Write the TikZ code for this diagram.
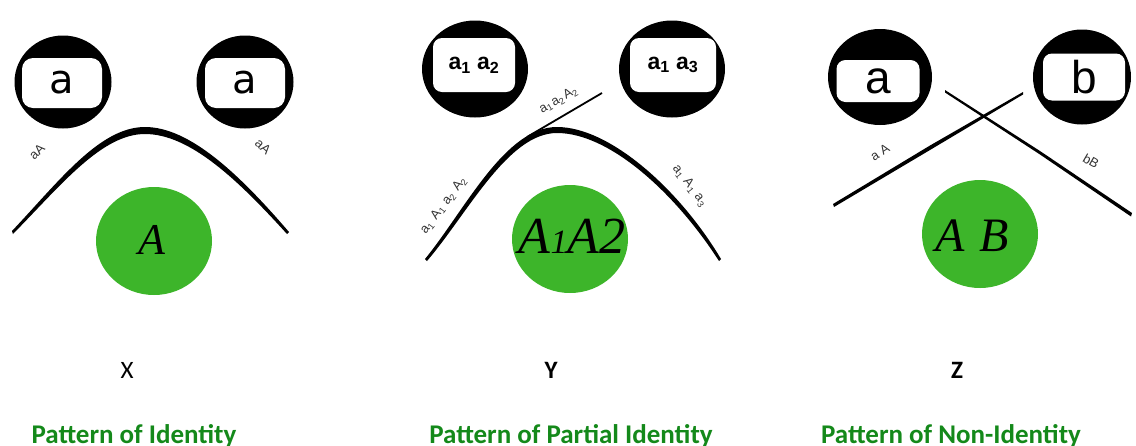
\documentclass[tikz,border=0pt]{standalone}
\usepackage{fontspec}
\setmainfont{Carlito}
\newfontfamily\slotfont{Liberation Sans}
\newfontfamily\dejafont{DejaVu Sans}
\newfontfamily\blobfont{Liberation Serif}
\usetikzlibrary{shapes.geometric,positioning}
\definecolor{blobgreen}{HTML}{3DB52A}
\definecolor{titlegreen}{HTML}{14891A}
\newcommand{\sub}[1]{\textsubscript{#1}\kern1pt\relax}

\begin{document}
\begin{tikzpicture}[
  x=1pt, y=-1pt,
  disc/.style={ellipse, fill=black, inner sep=0pt},
  slot/.style={rectangle, rounded corners=11pt, fill=white, inner sep=0pt},
  blob/.style={ellipse, fill=blobgreen, inner sep=0pt},
  blobtext/.style={font=\blobfont\itshape\fontsize{44}{44}\selectfont, inner sep=0pt},
  tag/.style={font=\slotfont\fontsize{13}{13}\selectfont, inner sep=0pt, text=black!80},
  letter/.style={font=\fontsize{25}{25}\selectfont, anchor=base, inner sep=0pt},
  title/.style={font=\bfseries\fontsize{27}{27}\selectfont, text=titlegreen,
                anchor=base, inner sep=0pt},
  arch/.style={fill=black}
]
\useasboundingbox (0,0) rectangle (1136,445);

% X: identity
\node[disc, minimum width=97pt, minimum height=93pt] (xl) at (63,82) {};
\node[slot, minimum width=80pt, minimum height=50pt, font=\dejafont\fontsize{40}{40}\selectfont]
  (xls) at (62,83) {a};
\node[disc, minimum width=97pt, minimum height=93pt] (xr) at (245,82) {};
\node[slot, minimum width=80pt, minimum height=50pt, font=\dejafont\fontsize{40}{40}\selectfont]
  (xrs) at (245,83) {a};
\fill[arch] (12,231) .. controls (60,180) and (100,127) .. (145,127)
  .. controls (190,127) and (240,175) .. (289,232)
  -- (287,234) .. controls (238,180) and (190,134) .. (145,134)
  .. controls (102,134) and (62,184) .. (13,234) -- cycle;
\node[tag, rotate=45] (xla) at (37,152) {aA};
\node[tag, rotate=-42] (xra) at (263,147) {aA};
\node[blob, minimum width=116pt, minimum height=108pt] (xg) at (154,241) {};
\node[blobtext] (xgt) at (152,240) {A};

% Y: partial identity
\node[disc, minimum width=106pt, minimum height=97pt] (yl) at (475,69) {};
\node[slot, minimum width=82pt, minimum height=54pt, rounded corners=9pt,
  font=\slotfont\bfseries\fontsize{23}{23}\selectfont]
  (yls) at (474,65) {a\textsubscript{1} a\textsubscript{2}};
\node[disc, minimum width=106pt, minimum height=97pt] (yr) at (672,69) {};
\node[slot, minimum width=86pt, minimum height=54pt, rounded corners=9pt,
  font=\slotfont\bfseries\fontsize{23}{23}\selectfont]
  (yrs) at (673,65) {a\textsubscript{1} a\textsubscript{3}};
\fill[arch] (425,259) .. controls (465,210) and (505,127) .. (557,127)
  .. controls (610,127) and (680,190) .. (721,259)
  -- (719,261) .. controls (676,194) and (610,133) .. (557,133)
  .. controls (508,133) and (468,213) .. (427,261) -- cycle;
\draw[line width=1.8pt] (527,137) -- (602,93);
\node[tag, rotate=53, font=\slotfont\fontsize{13}{13}\selectfont]
  (yla) at (444,205) {a\sub{1} A\sub{1} a\sub{2} A\sub{2}};
\node[tag, rotate=30, font=\slotfont\fontsize{13}{13}\selectfont]
  (yta) at (559,100) {a\sub{1}a\sub{2}A\sub{2}};
\node[tag, rotate=-53, font=\slotfont\fontsize{13}{13}\selectfont]
  (yra) at (690,186) {a\sub{1} A\sub{1} a\sub{3}};
\node[blob, minimum width=116pt, minimum height=108pt] (yg) at (570,239) {};
\node[blobtext, font=\blobfont\itshape\fontsize{52}{52}\selectfont]
  (ygt) at (572,236) {A{\fontsize{34}{34}\selectfont 1}A2};

% Z: non-identity
\node[disc, minimum width=104pt, minimum height=96pt] (zl) at (880,77) {};
\node[slot, minimum width=83pt, minimum height=42pt, rounded corners=9pt,
  font=\slotfont\fontsize{46}{46}\selectfont]
  (zls) at (878,81) {a};
\node[disc, minimum width=98pt, minimum height=95pt] (zr) at (1082,77) {};
\node[slot, minimum width=82pt, minimum height=47pt, rounded corners=9pt,
  font=\slotfont\fontsize{46}{46}\selectfont]
  (zrs) at (1084,77) {b};
\fill[arch] (833,204) -- (930,145.5) -- (1023,92) -- (1023,94.5) -- (930,150)
  -- (834,207) -- cycle;
\fill[arch] (945,90) -- (1040,151) -- (1132,213) -- (1131,216.5) -- (1040,154.5)
  -- (945,92.5) -- cycle;
\node[tag, rotate=33] (zla) at (880,152) {a A};
\node[tag, rotate=-30] (zra) at (1091,161) {bB};
\node[blob, minimum width=116pt, minimum height=108pt] (zg) at (980,234) {};
\node[blobtext, font=\blobfont\itshape\fontsize{48}{48}\selectfont]
  (zgt) at (972,236) {A\hspace{0.3em}B};

% captions
\node[letter] (xcap) at (127,378) {X};
\node[letter, font=\bfseries\fontsize{25}{25}\selectfont] (ycap) at (551,378) {Y};
\node[letter, font=\bfseries\fontsize{25}{25}\selectfont] (zcap) at (957,378) {Z};
\node[title] (xtitle) at (134,443) {Pattern of Identity};
\node[title] (ytitle) at (571,443) {Pattern of Partial Identity};
\node[title] (ztitle) at (951,443) {Pattern of Non-Identity};
\end{tikzpicture}
\end{document}
